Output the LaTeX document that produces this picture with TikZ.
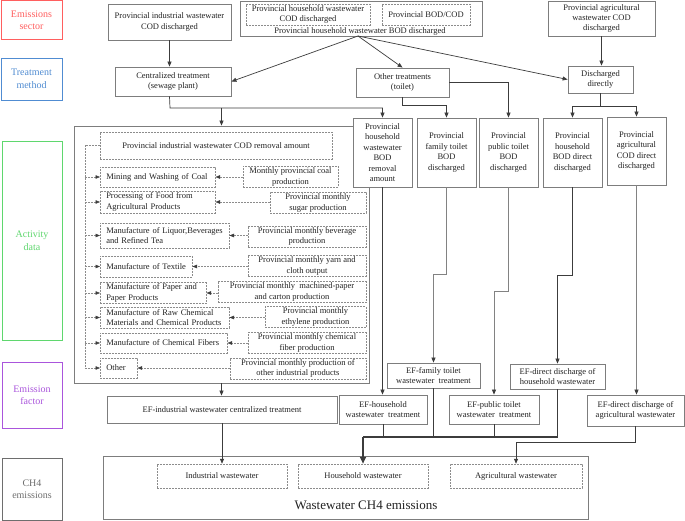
\documentclass[tikz,border=0pt]{standalone}
\usepackage{fontspec}
\setmainfont{Liberation Serif}
\usetikzlibrary{arrows.meta}
\definecolor{bxc}{RGB}{125,125,125}
\definecolor{dsc}{RGB}{140,140,140}
\definecolor{txc}{RGB}{35,35,35}
\definecolor{arc}{RGB}{60,60,60}
\definecolor{lgc}{RGB}{130,130,130}
\definecolor{redc}{RGB}{255,95,95}
\definecolor{bluec}{RGB}{80,140,210}
\definecolor{greenc}{RGB}{95,215,110}
\definecolor{purc}{RGB}{170,85,220}
\definecolor{grayc}{RGB}{110,110,110}
\tikzset{
 fs/.style={font=\fontsize{8.5}{10.4}\selectfont},
 bx/.style={draw=bxc, line width=0.8pt, fill=white, align=center, inner sep=0pt, text=txc, fs},
 dbx/.style={draw=dsc, line width=0.5pt, dash pattern=on 2pt off 1pt, fill=white, align=center, inner sep=0pt, text=txc, fs},
 ind/.style 2 args={dbx, anchor=west, align=left, inner xsep=6pt, inner ysep=0pt, text width=#1pt, minimum height=#2pt},
 lab/.style={draw=#1, line width=0.9pt, text=#1, align=center, font=\fontsize{10}{12.5}\selectfont, inner sep=0pt},
 sz/.style 2 args={minimum width=#1pt, minimum height=#2pt},
 ln/.style={draw=arc, line width=0.7pt},
 lln/.style={draw=lgc, line width=0.7pt},
 arr/.style={ln, -{Triangle[length=5pt,width=4pt]}},
 larr/.style={lln, -{Triangle[length=5pt,width=4pt,color=arc]}},
 darr/.style={draw=dsc, line width=0.5pt, dash pattern=on 2pt off 1pt, -{Triangle[length=4.5pt,width=3.5pt,color=arc]}},
 dln/.style={draw=dsc, line width=0.5pt, dash pattern=on 2pt off 1pt},
 thk/.style={draw=arc, line width=1.6pt},
}
\begin{document}
\begin{tikzpicture}[x=1pt,y=-1pt]
\useasboundingbox[fill=white] (0,0) rectangle (685,521);
% left labels
\node[lab=redc, sz={61}{39}] (Lsec) at (31.5,20) {Emissions\\sector};
\node[lab=bluec, sz={61}{42}] (Ltre) at (31.5,79) {Treatment\\method};
\node[lab=greenc, sz={60}{199}] (Lact) at (32,240.5) {Activity\\data};
\node[lab=purc, sz={60}{66}] (Lef) at (32,395) {Emission\\factor};
\node[lab=grayc, sz={60}{62}] (Lch) at (32,489) {CH4\\emissions};
% top row
\node[bx, sz={123}{36}] (indcod) at (169.5,22) {Provincial industrial wastewater\\COD discharged};
\node[bx, sz={242}{35}] (hh) at (361,18.5) {};
\node[dbx, sz={124}{21}] (hhcod) at (308,14.5) {Provincial household wastewater\\COD discharged};
\node[dbx, sz={88}{21}] (bodcod) at (426,14.5) {Provincial BOD/COD};
\node[text=txc, fs, inner sep=0pt] (hhbod) at (360,31) {Provincial household wastewater BOD discharged};
\node[bx, sz={107}{35}] (agcod) at (601.5,18.5) {Provincial agricultural\\wastewater COD\\discharged};
\coordinate (hho) at (358,36);
% treatment
\node[bx, sz={116}{29}] (cent) at (173,81.5) {Centralized treatment\\(sewage plant)};
\node[bx, sz={93}{29}] (other) at (402.5,82.5) {Other treatments\\(toilet)};
\node[bx, sz={65}{27}] (direct) at (600.5,79.5) {Discharged\\directly};
% big activity box
\node[bx, sz={295}{257}] (big) at (221.5,254.5) {};
\node[dbx, sz={232}{27}] (rem) at (216,145.5) {Provincial industrial wastewater COD removal amount};
\node[ind={103}{20}] (coal) at (100,177) {Mining and Washing of Coal};
\node[ind={103}{22}] (food) at (100,202) {Processing of Food from\\Agricultural Products};
\node[ind={117}{25}] (liq) at (100,235.5) {Manufacture of Liquor,Beverages\\and Refined Tea};
\node[ind={80}{21}] (tex) at (100,266.5) {Manufacture of Textile};
\node[ind={94}{21}] (pap) at (100,293) {Manufacture of Paper and\\Paper Products};
\node[ind={117}{21}] (chem) at (100,317.5) {Manufacture of Raw Chemical\\Materials and Chemical Products};
\node[ind={115}{20}] (fib) at (100,343) {Manufacture of Chemical Fibers};
\node[ind={25}{20}] (oth) at (100,368) {Other};
\node[dbx, sz={95}{21}] (mcoal) at (290.5,177) {Monthly provincial coal\\production};
\node[dbx, sz={96}{21}] (sug) at (318,203) {Provincial monthly\\sugar production};
\node[dbx, sz={118}{21}] (bev) at (307,236.5) {Provincial monthly beverage\\production};
\node[dbx, sz={118}{21}] (yarn) at (307,266) {Provincial monthly yarn and\\cloth output};
\node[dbx, sz={148}{21}] (mpap) at (292,292) {Provincial monthly~ machined-paper\\and carton production};
\node[dbx, sz={101}{21}] (eth) at (315.5,317) {Provincial monthly\\ethylene production};
\node[dbx, sz={118}{21}] (cfib) at (307,343) {Provincial monthly chemical\\fiber production};
\node[dbx, sz={136}{21}] (oprod) at (298,368.5) {Provincial monthly production of\\other industrial products};
% row of five boxes
\node[bx, sz={59}{69}] (hbr) at (382.5,152.5) {Provincial\\household\\wastewater\\BOD\\removal\\amount};
\node[bx, sz={59}{69}] (fam) at (446.5,152.5) {Provincial\\family toilet\\BOD\\discharged};
\node[bx, sz={59}{69}] (pub) at (508.5,152.5) {Provincial\\public toilet\\BOD\\discharged};
\node[bx, sz={59}{69}] (hbd) at (572.5,152.5) {Provincial\\household\\BOD direct\\discharged};
\node[bx, sz={59}{68}] (acd) at (636.5,151) {Provincial\\agricultural\\COD direct\\discharged};
% emission factors
\node[bx, sz={230}{27}] (efi) at (222,409.5) {EF-industrial wastewater centralized treatment};
\node[bx, sz={88}{29}] (efh) at (383,409.5) {EF-household\\wastewater~ treatment};
\node[bx, sz={93}{25}] (eff) at (433.5,375.5) {EF-family toilet\\wastewater~ treatment};
\node[bx, sz={90}{29}] (efp) at (494,409.5) {EF-public toilet\\wastewater~ treatment};
\node[bx, sz={95}{25}] (efd) at (557.5,376.5) {EF-direct discharge of\\household wastewater};
\node[bx, sz={97}{31}] (efa) at (635.5,410.5) {EF-direct discharge of\\agricultural wastewater};
% outputs
\node[bx, sz={485}{63}] (out) at (345.5,487.5) {};
\node[dbx, sz={130}{24}] (iw) at (222,476) {Industrial wastewater};
\node[dbx, sz={130}{24}] (hw) at (363,476) {Household wastewater};
\node[dbx, sz={132}{24}] (aw) at (516,476) {Agricultural wastewater};
\node[text=txc, font=\fontsize{13}{15}\selectfont, inner sep=0pt] (tot) at (366,505) {Wastewater CH4 emissions};
% connectors: top
\draw[arr] (indcod.south) -- (indcod.south |- cent.north);
\draw[arr] (hho) -- (cent.east);
\draw[arr] (hho) -- (other.north);
\draw[arr] (hho) -- (direct.west);
\draw[arr] (agcod.south) -- (agcod.south |- direct.north);
% treatment to activity
\coordinate (j1) at (170,108);
\draw[arr] (indcod.south |- cent.south) -- (j1) -| (hbr.north);
\draw[arr] (big.north |- j1) -- (big.north);
\draw[arr] (other.south) -- ++(0,8) -| (fam.north);
\draw[arr] (other.east) -| (pub.north);
\draw[ln] (direct.south) -- ++(0,12.5) coordinate (j2);
\draw[arr] (j2) -| (hbd.north);
\draw[arr] (j2) -| (acd.north);
% inside activity box
\draw[dln] (rem.west) -- ++(-15,0) coordinate (bt) -- (bt |- oth.west);
\foreach \n in {coal,food,liq,tex,pap,chem,fib,oth}{
  \draw[darr] (bt |- \n.west) -- (\n.west);
}
\draw[darr] (mcoal.west |- coal.east) -- (coal.east);
\draw[darr] (sug.west |- food.east) -- (food.east);
\draw[darr] (bev.west |- liq.east) -- (liq.east);
\draw[darr] (yarn.west |- tex.east) -- (tex.east);
\draw[darr] (mpap.west |- pap.east) -- (pap.east);
\draw[darr] (eth.west |- chem.east) -- (chem.east);
\draw[darr] (cfib.west |- fib.east) -- (fib.east);
\draw[darr] (oprod.west |- oth.east) -- (oth.east);
% to emission factors
\draw[arr] (big.south) -- (big.south |- efi.north);
\draw[arr] (hbr.south) -- (hbr.south |- efh.north);
\draw[larr] (fam.south) -- ++(0,87) -| (eff.north);
\draw[larr] (pub.south) -- ++(0,104) -| (efp.north);
\draw[arr] (hbd.south) -- ++(0,88) -| (efd.north);
\draw[larr] (acd.south) -- (acd.south |- efa.north);
% to CH4 emissions
\coordinate (j3) at (363,437);
\draw[arr] (efi.south) -- (efi.south |- iw.north);
\draw[ln] (efh.south) -- (efh.south |- j3);
\draw[ln] (efp.south) -- (efp.south |- j3);
\draw[thk] (eff.south) |- (j3);
\draw[thk] (efd.south) |- (j3);
\draw[thk, -{Triangle[length=7pt,width=6pt]}] (j3) -- (hw.north);
\draw[arr] (efa.south) -- ++(0,16) -| (aw.north);
\end{tikzpicture}
\end{document}
